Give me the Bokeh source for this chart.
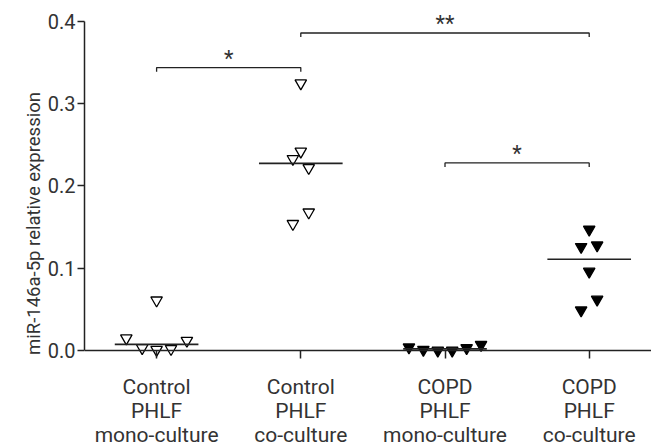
import numpy as np
from bokeh.plotting import figure
from bokeh.models import FixedTicker, Range1d, ColumnDataSource, NumeralTickFormatter, Title
from bokeh.core.properties import value
from bokeh.embed import file_html
from bokeh.resources import INLINE

# ---- data ----
categories = ["Control\nPHLF\nmono-culture", "Control\nPHLF\nco-culture",
              "COPD\nPHLF\nmono-culture", "COPD\nPHLF\nco-culture"]
group_pos = [1, 2, 3, 4]

ctrl_mono = [0.015, 0.003, 0.001, 0.061, 0.002, 0.012]
ctrl_mono_dx = [-0.21, -0.10, 0.0, 0.0, 0.10, 0.21]

ctrl_co = [0.325, 0.242, 0.233, 0.222, 0.168, 0.154]
ctrl_co_dx = [0.0, 0.0, -0.055, 0.055, 0.055, -0.055]

copd_mono = [0.004, 0.001, 0.0, 0.0, 0.003, 0.007]
copd_mono_dx = [-0.25, -0.15, -0.05, 0.05, 0.15, 0.25]

copd_co = [0.147, 0.126, 0.128, 0.096, 0.062, 0.049]
copd_co_dx = [0.0, -0.056, 0.055, 0.0, 0.055, -0.056]

series = [ctrl_mono, ctrl_co, copd_mono, copd_co]
offsets = [ctrl_mono_dx, ctrl_co_dx, copd_mono_dx, copd_co_dx]
filled = [False, False, True, True]

sig_pairs = [(1, 2), (2, 4), (3, 4)]
sig_levels = [0.344, 0.386, 0.228]
sig_labels = ["*", "**", "*"]

y_ticks = [0.0, 0.1, 0.2, 0.3, 0.4]
y_label = "miR-146a-5p relative expression"

FONT = "Roboto"
TXT = "#333333"
LINE = "#222222"

p = figure(width=651, height=446, output_backend="svg", toolbar_location=None,
           x_range=Range1d(0.5, 4.432), y_range=Range1d(-0.1167, 0.4255),
           min_border_left=84, min_border_right=0, min_border_top=0, min_border_bottom=0)
p.outline_line_color = None
p.xgrid.visible = False
p.ygrid.visible = False
p.background_fill_color = "white"

# points
for pos, vals, dx, fill in zip(group_pos, series, offsets, filled):
    src = ColumnDataSource(dict(x=[pos + d for d in dx], y=vals))
    p.scatter("x", "y", source=src, marker="inverted_triangle", size=11.5,
              line_color="black", line_width=1.3,
              fill_color="black" if fill else "white")

# median lines
med_x0 = [pos - 0.29 for pos in group_pos]
med_x1 = [pos + 0.29 for pos in group_pos]
meds = [float(np.median(v)) for v in series]
p.segment(x0=med_x0, y0=meds, x1=med_x1, y1=meds, line_color=LINE, line_width=1.6)

# significance brackets
d = 0.005
xs, ys, tx, ty = [], [], [], []
for (a, b), h in zip(sig_pairs, sig_levels):
    xs.append([a, a, b, b])
    ys.append([h - d, h, h, h - d])
    tx.append((a + b) / 2)
    ty.append(h)
p.multi_line(xs, ys, line_color=LINE, line_width=1.3)
p.text(x=tx, y=ty, text=sig_labels, text_align="center", text_baseline="alphabetic",
       y_offset=-9, text_font=value(FONT), text_font_size="22px", text_color=TXT)

# axes
xa = p.xaxis[0]
xa.fixed_location = 0
xa.ticker = FixedTicker(ticks=group_pos)
xa.major_label_overrides = {pos: lab for pos, lab in zip(group_pos, categories)}
xa.major_label_text_font = FONT
xa.major_label_text_font_size = "21px"
xa.major_label_text_line_height = 1.0
xa.major_label_text_color = TXT
xa.major_label_standoff = 16
xa.major_tick_in = 0
xa.major_tick_out = 8
xa.minor_tick_line_color = None
xa.axis_line_width = 1.5
xa.axis_line_color = LINE
xa.major_tick_line_width = 1.5
xa.major_tick_line_color = LINE

ya = p.yaxis[0]
ya.bounds = (0, 0.4)
ya.ticker = FixedTicker(ticks=y_ticks)
ya.formatter = NumeralTickFormatter(format="0.0")
ya.major_label_text_font = FONT
ya.major_label_text_font_size = "20px"
ya.major_label_text_color = TXT
ya.major_label_standoff = 2
ya.major_tick_in = 0
ya.major_tick_out = 7
ya.minor_tick_line_color = None
ya.axis_line_width = 1.5
ya.axis_line_color = LINE
ya.major_tick_line_width = 1.5
ya.major_tick_line_color = LINE

# y-axis title, centred on the 0..0.4 span of the axis
p.add_layout(Title(text=y_label, align="center", offset=55, standoff=0,
                   text_font=FONT, text_font_size="18.5px", text_font_style="normal",
                   text_color=TXT), "left")

open("out.html", "w").write(file_html(p, INLINE))
